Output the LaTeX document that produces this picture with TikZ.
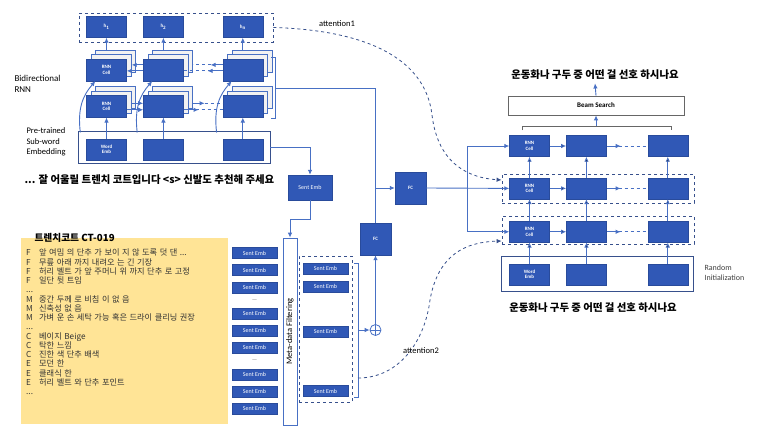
\documentclass[tikz,border=0pt]{standalone}
\usepackage{fontspec}
\setmainfont{Carlito}
\newfontfamily\kr{Noto Sans CJK KR}
\usetikzlibrary{positioning, arrows.meta, fit, shadows}

\definecolor{cellblue}{RGB}{48,88,182}
\definecolor{wireblue}{RGB}{72,112,196}
\definecolor{groupblue}{RGB}{55,80,140}
\definecolor{notepad}{RGB}{255,228,150}

\newcommand{\attr}[1]{\makebox[13pt][l]{#1}}

\begin{document}
\begin{tikzpicture}[x=1pt, y=-1pt, node distance=17pt,
	every node/.style={font=\fontsize{8}{9}\selectfont},
	cell/.style={rectangle, draw=cellblue!85!black, fill=cellblue, text=white, inner sep=0pt, align=center, minimum width=40pt, minimum height=21pt, font=\fontsize{5}{5.5}\selectfont\bfseries},
	rnn/.style={cell, minimum height=22pt,
		copy shadow={shadow xshift=9pt, shadow yshift=9pt, fill=gray!10, draw=wireblue},
		copy shadow={shadow xshift=4.5pt, shadow yshift=4.5pt, fill=gray!10, draw=wireblue}},
	sent/.style={cell, minimum width=45pt, minimum height=11pt, font=\fontsize{6}{6}\selectfont},
	fcbox/.style={cell, minimum width=31pt, minimum height=32pt},
	outline/.style={draw=groupblue, line width=0.8pt, inner sep=0pt},
	dashgroup/.style={draw=groupblue, dashed, line width=0.8pt, inner sep=0pt},
	wire/.style={draw=wireblue, line width=0.9pt},
	arr/.style={wire, -{Latex[length=5pt, width=4.5pt]}},
	att/.style={draw=groupblue, dashed, line width=0.8pt, -{Latex[length=5pt, width=4.5pt]}},
	kor/.style={font=\kr\bfseries\fontsize{10.4}{12}\selectfont}
	]
\useasboundingbox (0,0) rectangle (768,428);
\fill[white] (0,0) rectangle (768,428);

% encoder
\node[cell] (h1) at (106.5,27) {h\textsubscript{1}};
\node[cell, right=16.5pt of h1] (h2) {h\textsubscript{2}};
\node[cell, right=39pt of h2] (hn) {h\textsubscript{n}};
\node[dashgroup, fit={(79,13)(273,42)}] (hgroup) {};

\node[rnn, below=21pt of h1] (bwd1) {RNN\\Cell};
\node[rnn, below=21pt of h2] (bwd2) {};
\node[rnn, below=21pt of hn] (bwdn) {};
\node[rnn, below=14pt of bwd1] (fwd1) {RNN\\Cell};
\node[rnn, below=14pt of bwd2] (fwd2) {};
\node[rnn, below=14pt of bwdn] (fwdn) {};
\node[cell, below=21pt of fwd1] (we1) {Word\\Emb};
\node[cell, below=21pt of fwd2] (we2) {};
\node[cell, below=21pt of fwdn] (wen) {};
\node[outline, fit={(78,131)(270,163)}] (encemb) {};

\node[font=\fontsize{9}{11}\selectfont, align=left, anchor=west] (birnn) at (11,83.5) {Bidirectional\\RNN};
\node[font=\fontsize{8.5}{10.7}\selectfont, align=left, anchor=west] (pretrained) at (23,142) {Pre-trained\\Sub-word\\Embedding};

\draw[wire, line width=0.6pt] (271,57) -- (275,57) -- (275,118) -- (271,118);
\coordinate (encout) at (275,88);

\draw[arr] (h1.south) ++(0,-12pt) -- (h1.south);
\draw[arr] (h2.south) ++(0,-12pt) -- (h2.south);
\draw[arr] (hn.south) ++(0,-12pt) -- (hn.south);
\draw[arr] (we1) -- (fwd1);
\draw[arr] (we2) -- (fwd2);
\draw[arr] (wen) -- (fwdn);

\draw[arr] ([xshift=-6pt,yshift=6pt]we1.north west) .. controls +(-3pt,25pt) and +(-12pt,-14pt) .. ([xshift=9pt]bwd1.south west);
\draw[arr] ([xshift=-6pt,yshift=6pt]we2.north west) .. controls +(-3pt,25pt) and +(-12pt,-14pt) .. ([xshift=9pt]bwd2.south west);
\draw[arr] ([xshift=-6pt,yshift=6pt]wen.north west) .. controls +(-3pt,25pt) and +(-12pt,-14pt) .. ([xshift=9pt]bwdn.south west);

% forward and backward passes
\draw[arr] ([yshift=-3.5pt]fwd1.east) -- ([yshift=-3.5pt]fwd2.west);
\draw[arr] ([xshift=5pt,yshift=3pt]fwd1.east) -- ([yshift=3pt]fwd2.west);
\draw[wire, dashed] ([yshift=-3.5pt]fwd2.east) -- ([yshift=-3.5pt]fwdn.west);
\draw[wire, dashed] ([xshift=9pt,yshift=3pt]fwd2.east) -- ([yshift=3pt]fwdn.west);
\draw[arr] ([yshift=-3.5pt]fwd2.east) -- ++(15pt,0);
\draw[arr] ([xshift=9pt,yshift=3pt]fwd2.east) -- ++(12pt,0);

\draw[arr] ([yshift=-1pt]bwd2.west) -- ([yshift=-1pt]bwd1.east);
\draw[arr] ([yshift=5pt]bwd2.west) -- ([xshift=5pt,yshift=5pt]bwd1.east);
\draw[wire, dashed] ([yshift=-1pt]bwdn.west) -- ([yshift=-1pt]bwd2.east);
\draw[wire, dashed] ([yshift=5pt]bwdn.west) -- ([xshift=9pt,yshift=5pt]bwd2.east);
\draw[arr] ([yshift=-1pt]bwdn.west) -- ++(-15pt,0);
\draw[arr] ([yshift=5pt]bwdn.west) -- ++(-12pt,0);

\node[kor, anchor=west] (context) at (21,180) {... 잘 어울릴 트렌치 코트입니다 <s> 신발도 추천해 주세요};

% meta-data
\node[fill=notepad, minimum width=207pt, minimum height=186pt, inner sep=0pt] (note) at (124.5,331) {};
\node[font=\kr\bfseries\fontsize{9.7}{11}\selectfont, anchor=west] (notetitle) at (31,238) {트렌치코트 CT-019};
\node[font=\kr\fontsize{8.2}{9.25}\selectfont, anchor=north west, text width=200pt, align=left, text=black!80, inner sep=0pt] (notebody) at (26,249) {%
\spaceskip=2.5pt plus 1pt minus 0.5pt\lineskiplimit=-10pt
\attr{F}앞 여밈 의 단추 가 보이 지 않 도록 덧 댄 ...\\
\attr{F}무릎 아래 까지 내려오 는 긴 기장\\
\attr{F}허리 벨트 가 앞 주머니 위 까지 단추 로 고정\\
\attr{F}일단 뒷 트임\\
\attr{...}\\
\attr{M}중간 두께 로 비침 이 없 음\\
\attr{M}신축성 없 음\\
\attr{M}가벼 운 손 세탁 가능 혹은 드라이 클리닝 권장\\
\attr{...}\\
\attr{C}베이지 Beige\\
\attr{C}탁한 느낌\\
\attr{C}진한 색 단추 배색\\
\attr{E}모던 한\\
\attr{E}클래식 한\\
\attr{E}허리 벨트 와 단추 포인트\\
\attr{...}};

\node[sent] (s1) at (254.5,253) {Sent Emb};
\node[sent, below=5.7pt of s1] (s2) {Sent Emb};
\node[sent, below=5.7pt of s2] (s3) {Sent Emb};
\node[text=black!50, font=\fontsize{6}{6}\selectfont] (gap1) at (254.5,301) {---};
\node[sent] (s4) at (254.5,313.5) {Sent Emb};
\node[sent, below=5.7pt of s4] (s5) {Sent Emb};
\node[sent, below=5.7pt of s5] (s6) {Sent Emb};
\node[text=black!50, font=\fontsize{6}{6}\selectfont] (gap2) at (254.5,361) {---};
\node[sent] (s7) at (254.5,374.5) {Sent Emb};
\node[sent, below=5.7pt of s7] (s8) {Sent Emb};
\node[sent, below=5.7pt of s8] (s9) {Sent Emb};

\node[sent, minimum width=44pt, minimum height=25pt] (sctx) at (310,187.5) {Sent Emb};
\node[draw=wireblue, line width=0.8pt, fill=white, rotate=90, minimum width=187pt, minimum height=14pt, inner sep=0pt, font=\fontsize{8.5}{9}\selectfont] (meta) at (290,331.5) {Meta-data Filtering};

\node[sent] (m1) at (325.5,268.5) {Sent Emb};
\node[sent, below=7pt of m1] (m2) {Sent Emb};
\node[sent] (m3) at (325.5,331.5) {Sent Emb};
\node[sent] (m4) at (325.5,391) {Sent Emb};
\node[dashgroup, fit={(299,256)(352,402)}] (selgroup) {};
\draw[wire, line width=0.6pt] (354,263) -- (358,263) -- (358,397) -- (354,397);
\coordinate (selout) at (358,330);
\coordinate (att2src) at (358,378);

\node[circle, draw=wireblue, line width=0.8pt, minimum size=11pt, inner sep=0pt] (sum) at (375.5,330) {};
\draw[wire, line width=0.6pt] (sum.north) -- (sum.south) (sum.west) -- (sum.east);

\node[fcbox] (fclow) at (375.5,239) {FC};
\node[fcbox] (fcup) at (410.5,188) {FC};

\draw[arr] (encemb.east) -| (sctx.north);
\draw[arr] (sctx.south) -- ++(0,-19pt) -| (meta.east);
\draw[wire] (encout) -| (fclow.north);
\draw[arr] (fclow.north |- fcup.west) -- (fcup.west);
\draw[arr] (selout) -- (sum.west);
\draw[arr] (sum.north) -- (fclow.south);

% decoder
\node[kor] (outtop) at (595,75) {운동화나 구두 중 어떤 걸 선호 하시나요};
\node[draw=black!60, line width=0.8pt, fill=white, minimum width=176pt, minimum height=19pt, inner sep=0pt, font=\fontsize{7}{8}\selectfont\bfseries] (beam) at (596,105.5) {Beam Search};

\node[cell] (d11) at (529.5,146) {RNN\\Cell};
\node[cell, right=16.5pt of d11] (d12) {};
\node[cell, right=41pt of d12] (d13) {};
\node[cell, below=21pt of d11] (d21) {RNN\\Cell};
\node[cell, below=21pt of d12] (d22) {};
\node[cell, below=21pt of d13] (d23) {};
\node[cell, below=22pt of d21] (d31) {RNN\\Cell};
\node[cell, below=22pt of d22] (d32) {};
\node[cell, below=22pt of d23] (d33) {};
\node[cell, below=21pt of d31] (dw1) {Word\\Emb};
\node[cell, below=21pt of d32] (dw2) {};
\node[cell, below=21pt of d33] (dw3) {};

\node[dashgroup, fit={(502,174)(694,203)}] (row2) {};
\node[dashgroup, fit={(502,216)(694,244)}] (row3) {};
\node[outline, fit={(501,256)(693,291)}] (decemb) {};
\node[font=\fontsize{8}{10}\selectfont, align=left, anchor=west, text=black!75] (randinit) at (701,273) {Random\\Initialization};
\node[kor] (outbot) at (593,308) {운동화나 구두 중 어떤 걸 선호 하시나요};

\draw[draw=black!60, line width=0.6pt] (522,130) -- (522,126) -- (671,126) -- (671,130);
\coordinate (decout) at (596,126);
\draw[arr] (decout) -- (beam.south);
\draw[arr] (beam.north) -- (outtop.south);

\path[arr]
(dw1) edge (d31) (d31) edge (d21) (d21) edge (d11)
(dw2) edge (d32) (d32) edge (d22) (d22) edge (d12)
(dw3) edge (d33) (d33) edge (d23) (d23) edge (d13)
(d11) edge (d12) (d21) edge (d22) (d31) edge (d32);

\draw[wire, dashed] (d12) -- (d13);
\draw[wire, dashed] (d22) -- (d23);
\draw[wire, dashed] (d32) -- (d33);
\draw[arr] (d12.east) -- ++(14pt,0);
\draw[arr] (d22.east) -- ++(14pt,0);
\draw[arr] (d32.east) -- ++(14pt,0);

\coordinate (split) at (467,188);
\draw[arr] (fcup.east) -- (d21.west);
\draw[arr] (split) |- (d11.west);
\draw[arr] (split) |- (d31.west);

% attention
\draw[att] (hgroup.east) .. controls (360,30) and (425,55) .. (432,115) .. controls (438,165) and (470,178) .. ([yshift=8.5pt]row2.west);
\draw[att] (att2src) .. controls (400,378) and (425,340) .. (430,300) .. controls (438,255) and (465,242) .. ([yshift=-11pt]row3.west);
\node[font=\fontsize{8.5}{10}\selectfont] (att1lbl) at (337,24) {attention1};
\node[font=\fontsize{8.5}{10}\selectfont] (att2lbl) at (421,351) {attention2};

\end{tikzpicture}
\end{document}
